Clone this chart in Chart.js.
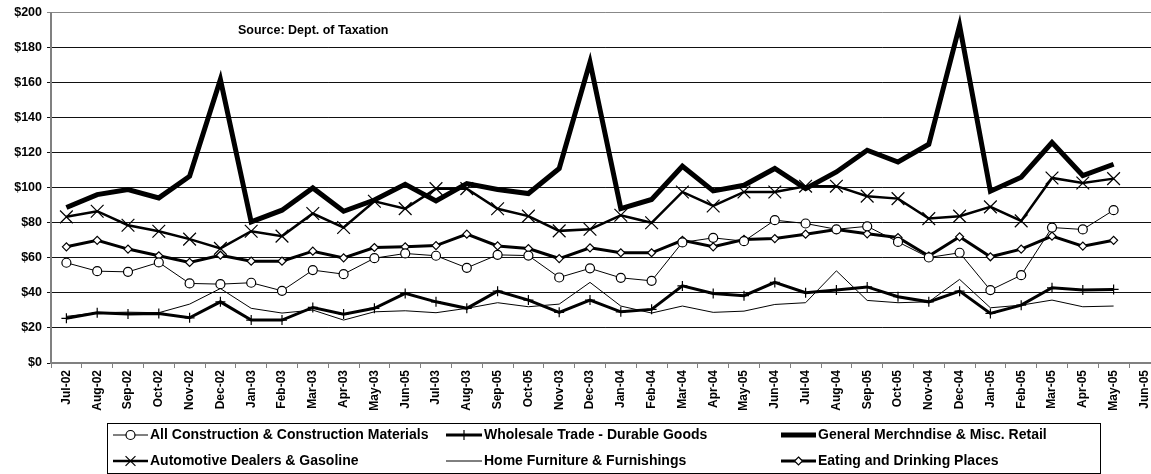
<!DOCTYPE html>
<html>
<head>
<meta charset="utf-8">
<script src="https://cdn.jsdelivr.net/npm/chart.js@4/dist/chart.umd.min.js"></script>
<style>
  html, body { margin: 0; padding: 0; background: #fff; overflow: hidden; }
  #wrap { width: 1170px; height: 474px; }
</style>
</head>
<body>
<div id="wrap"><canvas id="sales" width="1170" height="474"></canvas></div>
<script>
// monthly labels, as printed on the axis
const months = ['Jul-02','Aug-02','Sep-02','Oct-02','Nov-02','Dec-02','Jan-03','Feb-03','Mar-03','Apr-03',
  'May-03','Jun-05','Jul-03','Aug-03','Sep-05','Oct-05','Nov-03','Dec-03','Jan-04','Feb-04','Mar-04','Apr-04',
  'May-05','Jun-04','Jul-04','Aug-04','Sep-05','Oct-05','Nov-04','Dec-04','Jan-05','Feb-05','Mar-05','Apr-05',
  'May-05','Jun-05'];

const construction = [57.2,52.4,52,57.4,45.4,45,45.8,41.2,53,50.7,59.8,62.5,61.2,54.3,61.7,61.3,48.8,54,
  48.6,46.9,68.8,71.4,69.5,81.5,79.6,76.3,78,69.1,60.2,62.9,41.6,50.1,77.3,76.2,87.2];
const wholesale = [25.5,28.7,27.9,28.3,25.8,34.9,24.5,24.5,31.7,27.9,31.2,39.7,34.9,31.2,41,35.9,28.9,35.9,
  29.2,30.6,44,39.7,38.4,46,40.1,41.6,43.4,37.8,34.9,41,28.3,33,42.9,41.6,42];
const generalMerch = [88.7,96.1,99,94.2,106.6,161.8,80.5,87.2,99.9,86.6,93,102,92.5,102.4,99,96.7,111,171.7,
  88.1,93.3,112.3,98.2,101.4,111,99.5,109,121.4,114.7,124.8,192.6,98,106,125.8,107,113.4];
const automotive = [83.4,86.6,78.6,75.2,70.7,65.4,75.2,72.4,85.3,77.3,92.3,88.1,99.5,99.5,88,83.8,75.4,76.3,
  84.3,80,97.6,89.6,97.6,97.6,100.9,100.9,95.2,93.8,82.4,83.8,89.1,81.1,105.6,102.7,105.2];
const homeFurn = [26.6,28.7,29,28.7,33.6,42.5,31.2,28.5,30.2,24.5,29.2,29.8,28.7,31.2,34.4,32.1,33.6,46,
  32.5,28.5,32.5,28.9,29.6,33.4,34.4,52.6,35.7,34.4,34.9,47.7,31.5,33,35.9,32.1,32.5];
const eating = [66.3,70,65,61.2,57.4,61.5,58.1,58.1,63.8,60,65.9,66.3,67,73.5,66.8,65.3,59.6,65.7,
  62.9,62.9,70,66.3,70.5,71,73.5,76.2,73.7,71.6,61,72,60.6,65,72.4,66.7,70];

const FONT = '"Liberation Sans", Arial, sans-serif';

function series(label, data, width, style, radius) {
  return {
    label: label,
    data: data,
    borderColor: '#000',
    backgroundColor: '#fff',
    borderWidth: width,
    tension: 0,
    fill: false,
    pointStyle: style || 'circle',
    pointRadius: style ? radius : 0,
    pointHoverRadius: style ? radius : 0,
    pointBorderColor: '#000',
    pointBackgroundColor: '#fff',
    pointBorderWidth: 1.2
  };
}

// small marker painter for the legend samples
function marker(ctx, style, r, x, y) {
  ctx.beginPath();
  if (style === 'circle') {
    ctx.arc(x, y, r, 0, Math.PI * 2);
    ctx.fill();
  } else if (style === 'rectRot') {
    ctx.moveTo(x, y - r); ctx.lineTo(x + r, y); ctx.lineTo(x, y + r); ctx.lineTo(x - r, y); ctx.closePath();
    ctx.fill();
  } else if (style === 'cross') {
    ctx.moveTo(x, y - r); ctx.lineTo(x, y + r); ctx.moveTo(x - r, y); ctx.lineTo(x + r, y);
  } else if (style === 'crossRot') {
    const d = r * 0.7071;
    ctx.moveTo(x - d, y - d); ctx.lineTo(x + d, y + d); ctx.moveTo(x - d, y + d); ctx.lineTo(x + d, y - d);
  }
  ctx.stroke();
}

const boxedLegend = {
  id: 'boxedLegend',
  afterDraw(chart) {
    const ctx = chart.ctx;
    ctx.save();
    // source note
    ctx.font = 'bold 12.5px ' + FONT;
    ctx.fillStyle = '#000';
    ctx.textBaseline = 'middle';
    ctx.textAlign = 'left';
    ctx.fillText('Source: Dept. of Taxation', 238, 31);

    // legend frame
    ctx.strokeStyle = '#000';
    ctx.lineWidth = 1;
    ctx.strokeRect(107.5, 423.5, 993, 50);

    const cols = [[113, 150], [446, 484], [781, 818]];
    const rows = [435, 461];
    ctx.font = 'bold 14px ' + FONT;
    chart.data.datasets.forEach((ds, i) => {
      const c = cols[i % 3], y = rows[Math.floor(i / 3)];
      const x0 = c[0], x1 = c[1] - 2;
      ctx.strokeStyle = '#000';
      ctx.lineWidth = ds.borderWidth;
      ctx.beginPath(); ctx.moveTo(x0, y); ctx.lineTo(x1, y); ctx.stroke();
      if (ds.pointRadius > 0) {
        ctx.lineWidth = ds.pointBorderWidth;
        ctx.fillStyle = '#fff';
        marker(ctx, ds.pointStyle, Math.min(ds.pointRadius, 7), (x0 + x1) / 2, y);
      }
      ctx.fillStyle = '#000';
      ctx.fillText(ds.label, c[1], y);
    });
    ctx.restore();
  }
};

new Chart(document.getElementById('sales'), {
  type: 'line',
  data: {
    labels: months,
    datasets: [
      series('All Construction & Construction Materials', construction, 1, 'circle', 4.5),
      series('Wholesale Trade - Durable Goods', wholesale, 3, 'cross', 5),
      series('General Merchndise & Misc. Retail', generalMerch, 5, null, 0),
      series('Automotive Dealers & Gasoline', automotive, 2.5, 'crossRot', 9),
      series('Home Furniture & Furnishings', homeFurn, 1, null, 0),
      series('Eating and Drinking Places', eating, 3, 'rectRot', 4)
    ]
  },
  options: {
    responsive: false,
    animation: false,
    layout: { padding: { top: 12, left: 0, right: 0, bottom: 0 } },
    plugins: {
      legend: { display: false },
      tooltip: { enabled: false }
    },
    scales: {
      x: {
        type: 'category',
        offset: true,
        afterFit: (s) => { s.height = 111; },
        grid: { offset: true, drawOnChartArea: false, drawTicks: true, tickLength: 5, color: '#808080' },
        border: { color: '#808080', width: 2 },
        ticks: {
          autoSkip: false, minRotation: 90, maxRotation: 90, padding: 2,
          color: '#000', font: { family: FONT, size: 12, weight: 'bold' }
        }
      },
      y: {
        min: 0,
        max: 200,
        afterFit: (s) => { s.width = 51; },
        grid: {
          tickLength: 4,
          color: (c) => c.tick && c.tick.value === 200 ? '#888' : '#111',
          lineWidth: 1
        },
        border: { color: '#808080', width: 2 },
        ticks: {
          stepSize: 20, padding: 5, color: '#000',
          font: { family: FONT, size: 12.5, weight: 'bold' },
          callback: (v) => '$' + v
        }
      }
    }
  },
  plugins: [boxedLegend]
});
</script>
</body>
</html>
